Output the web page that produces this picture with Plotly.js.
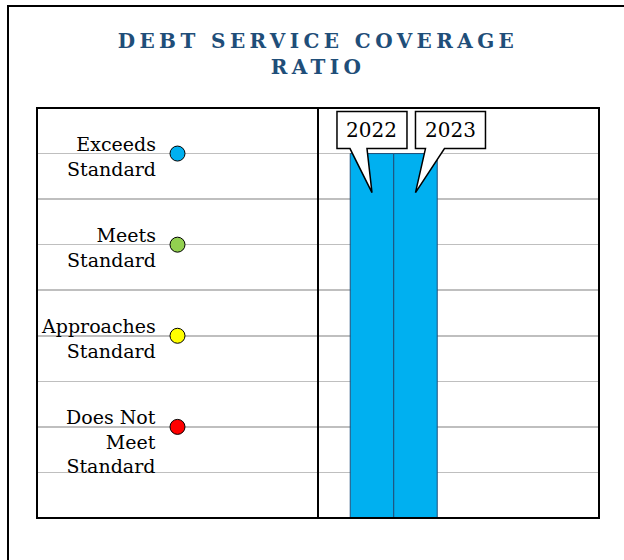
<!DOCTYPE html>
<html>
<head>
<meta charset="utf-8">
<script src="https://cdn.plot.ly/plotly-3.0.1.min.js"></script>
<style>
  html, body { margin: 0; padding: 0; background: #ffffff; }
  #chart { width: 624px; height: 560px; }
  .gtitle { letter-spacing: 4.4px; }
  #err { position: absolute; left: 20px; top: 530px; font: 10px sans-serif; color: red; }
</style>
</head>
<body>
<div id="chart"></div>
<div id="err"></div>
<script>
window.onerror = function (m) { document.getElementById("err").textContent += " " + m; };
// ---- data ----
const titleText = "DEBT SERVICE COVERAGE<br>RATIO";
const levelNames = ["Exceeds<br>Standard", "Meets<br>Standard", "Approaches<br>Standard", "Does Not<br>Meet<br>Standard"];
const levelValues = [8, 6, 4, 2];
const levelColors = ["#00B0F0", "#92D050", "#FFFF00", "#FF0000"];
const years = ["2022", "2023"];
const yearRatings = [8, 8];
const gridValues = [1, 2, 3, 4, 5, 6, 7, 8];

const serif = "DejaVu Serif, serif";

// ---- traces ----
const legendMarkers = {
  type: "scatter", mode: "markers",
  x: levelValues.map(() => 0.5), y: levelValues,
  xaxis: "x", yaxis: "y",
  marker: { size: 15, color: levelColors, line: { color: "#000000", width: 1 } },
  hoverinfo: "skip", showlegend: false
};
const bars = {
  type: "bar", x: years, y: yearRatings,
  xaxis: "x2", yaxis: "y", width: 1,
  marker: { color: "#00B0F0", line: { color: "#1F4E79", width: 1 } },
  hoverinfo: "skip", showlegend: false
};

// ---- annotations ----
const annotations = [];
levelNames.forEach((name, i) => {
  annotations.push({
    xref: "x", yref: "y", x: 0.5, y: levelValues[i],
    xanchor: "right", yanchor: "top", xshift: -21, yshift: 22,
    align: "right", showarrow: false, text: name, borderpad: 0,
    font: { family: serif, size: 19, color: "#000000" }
  });
});
const calloutShift = [0, 35];
const calloutPaths = [
  "M -35,42 L 35,42 L 35,5 L -5,5 L 0,-39 L -22,5 L -35,5 Z",
  "M 0,42 L 70,42 L 70,5 L 29,5 L 0,-39 L 10,5 L 0,5 Z"
];
years.forEach((yr, i) => {
  annotations.push({
    xref: "x2", yref: "y", x: i, y: yearRatings[i],
    xshift: calloutShift[i], yshift: 23.5, showarrow: false, text: yr,
    font: { family: serif, size: 20, color: "#000000" }
  });
});

// ---- shapes ----
const shapes = [
  { type: "rect", xref: "paper", yref: "paper", x0: -0.0516, x1: 1.2, y0: -0.3, y1: 1.2488,
    line: { color: "#000000", width: 2 }, fillcolor: "rgba(0,0,0,0)", layer: "above" },
  { type: "rect", xref: "paper", yref: "paper", x0: 0, x1: 1, y0: 0, y1: 1,
    line: { color: "#000000", width: 2 }, fillcolor: "rgba(0,0,0,0)", layer: "above" },
  { type: "line", xref: "paper", yref: "paper", x0: 0.5, x1: 0.5, y0: 0, y1: 1,
    line: { color: "#000000", width: 2 }, layer: "above" }
];
years.forEach((yr, i) => {
  shapes.push({
    type: "path", xref: "x2", yref: "y",
    xsizemode: "pixel", ysizemode: "pixel", xanchor: i, yanchor: yearRatings[i],
    path: calloutPaths[i], fillcolor: "#FFFFFF",
    line: { color: "#000000", width: 1.5 }, layer: "above"
  });
});

const layout = {
  width: 624, height: 560,
  margin: { l: 37, r: 25, t: 108, b: 42 },
  paper_bgcolor: "#FFFFFF", plot_bgcolor: "#FFFFFF",
  title: {
    text: titleText, xref: "paper", x: 0.5, xanchor: "center",
    yref: "container", y: 0.914, yanchor: "top",
    font: { family: serif, size: 20, color: "#1F4E79", weight: "bold" }
  },
  xaxis: { domain: [0, 0.5], range: [0, 1], showgrid: false, zeroline: false,
           showticklabels: false, showline: false, ticks: "", fixedrange: true },
  xaxis2: { domain: [0.5, 1], type: "category", categoryorder: "array", categoryarray: years,
            range: [-1.241, 5.219], anchor: "y", showgrid: false, zeroline: false,
            showticklabels: false, showline: false, ticks: "", fixedrange: true },
  yaxis: { range: [0, 9], tickvals: gridValues, showticklabels: false, ticks: "",
           showgrid: true, gridcolor: "#BFBFBF", gridwidth: 1.5, zeroline: false,
           showline: false, fixedrange: true },
  bargap: 0,
  showlegend: false,
  annotations: annotations,
  shapes: shapes
};

Plotly.newPlot("chart", [bars, legendMarkers], layout, { displayModeBar: false, staticPlot: true })
  .catch(function (e) { document.getElementById("err").textContent += " " + e; });
</script>
</body>
</html>
